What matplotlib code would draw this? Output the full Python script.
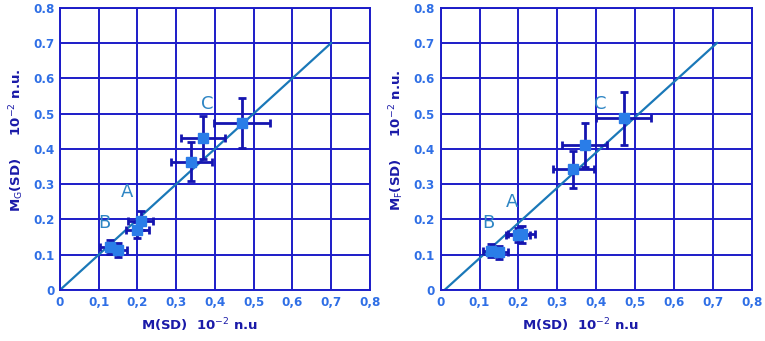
import matplotlib
matplotlib.use('Agg')
import numpy as np
import matplotlib.pyplot as plt

# left panel: M(SD) vs M_G(SD)
g_x = [0.469, 0.370, 0.339, 0.208, 0.200, 0.129, 0.150]
g_y = [0.474, 0.431, 0.364, 0.196, 0.170, 0.123, 0.113]
g_xerr = [0.072, 0.057, 0.053, 0.032, 0.030, 0.025, 0.023]
g_yerr = [0.071, 0.061, 0.056, 0.027, 0.023, 0.020, 0.020]
g_line_x = [0.0, 0.7]
g_line_y = [0.0, 0.7]
g_letters = {'C': (0.379, 0.528), 'A': (0.172, 0.278), 'B': (0.114, 0.189)}

# right panel: M(SD) vs M_F(SD)
f_x = [0.470, 0.370, 0.341, 0.208, 0.199, 0.129, 0.150]
f_y = [0.486, 0.410, 0.342, 0.158, 0.156, 0.111, 0.107]
f_xerr = [0.071, 0.057, 0.053, 0.035, 0.030, 0.020, 0.022]
f_yerr = [0.074, 0.062, 0.053, 0.024, 0.020, 0.018, 0.018]
f_line_x = [0.01, 0.71]
f_line_y = [0.0, 0.7]
f_letters = {'C': (0.409, 0.528), 'A': (0.184, 0.250), 'B': (0.123, 0.189)}

ticks = [0, 0.1, 0.2, 0.3, 0.4, 0.5, 0.6, 0.7, 0.8]
xtick_labels = ['0', '0,1', '0,2', '0,3', '0,4', '0,5', '0,6', '0,7', '0,8']
ytick_labels = ['0', '0.1', '0.2', '0.3', '0.4', '0.5', '0.6', '0.7', '0.8']

GRID = '#1c1cc8'
TICK = '#2f6fe6'
LABEL = '#1a1aa8'
MARK = '#2a7de8'
ERR = '#1515b0'
LINE = '#1a78b8'
LETTER = '#2f86c4'


def draw_panel(ax, x, y, xerr, yerr, lx, ly, letters, sub):
    ax.set_xlim(0, 0.8)
    ax.set_ylim(0, 0.8)
    ax.set_xticks(ticks)
    ax.set_yticks(ticks)
    ax.set_xticklabels(xtick_labels)
    ax.set_yticklabels(ytick_labels)
    ax.grid(True, color=GRID, lw=1.4)
    ax.set_axisbelow(True)
    for s in ax.spines.values():
        s.set_color(GRID)
        s.set_linewidth(1.4)
    ax.tick_params(length=0, pad=4, labelcolor=TICK, labelsize=9.5)
    for t in ax.get_xticklabels() + ax.get_yticklabels():
        t.set_fontweight('bold')
        t.set_fontstretch('condensed')

    ax.plot(lx, ly, color=LINE, lw=1.6, zorder=2)
    ax.errorbar(x, y, xerr=xerr, yerr=yerr, fmt='none', ecolor=ERR,
                elinewidth=2, capsize=3, capthick=2, zorder=3)
    ax.plot(x, y, 's', color=MARK, ms=6.5, zorder=4)

    for k, (tx, ty) in letters.items():
        ax.text(tx, ty, k, color=LETTER, fontsize=13, ha='center', va='center')

    ax.text(0.45, -0.125, r'M(SD)  10$^{-2}$ n.u', transform=ax.transAxes,
            ha='center', va='center', color=LABEL, fontsize=9.5, fontweight='bold')
    ax.text(-0.14, 0.53, r'M$_{\rm ' + sub + r'}$(SD)     10$^{-2}$ n.u.',
            transform=ax.transAxes, rotation=90, ha='center', va='center',
            color=LABEL, fontsize=9.5, fontweight='bold')


fig = plt.figure(figsize=(7.65, 3.41), dpi=100)
ax1 = fig.add_axes([0.0784, 0.1496, 0.4052, 0.828])
ax2 = fig.add_axes([0.576, 0.1496, 0.407, 0.828])

draw_panel(ax1, g_x, g_y, g_xerr, g_yerr, g_line_x, g_line_y, g_letters, 'G')
draw_panel(ax2, f_x, f_y, f_xerr, f_yerr, f_line_x, f_line_y, f_letters, 'F')

fig.savefig('out.png', dpi=100)
